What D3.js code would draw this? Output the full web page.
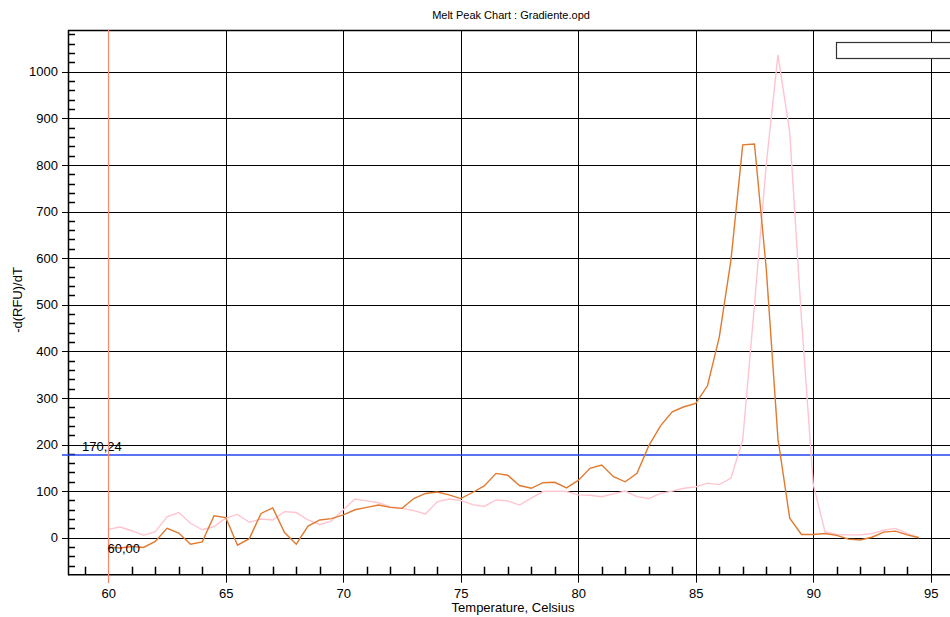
<!DOCTYPE html>
<html>
<head>
<meta charset="utf-8">
<script src="https://cdn.jsdelivr.net/npm/d3@7"></script>
<style>
  body { margin: 0; background: #fff; }
  .chart svg { display: block; font-family: "Liberation Sans", Arial, sans-serif; }
</style>
</head>
<body>
<div class="chart"></div>
<script>
// melt temperatures (Celsius)
const temps = [
  60.0, 60.5, 61.0, 61.5, 62.0, 62.5, 63.0, 63.5, 64.0, 64.5,
  65.0, 65.5, 66.0, 66.5, 67.0, 67.5, 68.0, 68.5, 69.0, 69.5,
  70.0, 70.5, 71.0, 71.5, 72.0, 72.5, 73.0, 73.5, 74.0, 74.5,
  75.0, 75.5, 76.0, 76.5, 77.0, 77.5, 78.0, 78.5, 79.0, 79.5,
  80.0, 80.5, 81.0, 81.5, 82.0, 82.5, 83.0, 83.5, 84.0, 84.5,
  85.0, 85.5, 86.0, 86.5, 87.0, 87.5, 88.0, 88.5, 89.0, 89.5,
  90.0, 90.5, 91.0, 91.5, 92.0, 92.5, 93.0, 93.5, 94.0, 94.5
];

// -d(RFU)/dT, orange well
const wellOrange = [
  -20, -22, -19, -21, -8, 20, 10, -14, -9, 47,
  43, -16, -2, 52, 64, 11, -14, 25, 38, 41,
  49, 60, 65, 70, 65, 63, 84, 95, 98, 92,
  84, 97, 111, 138, 134, 112, 106, 118, 119, 107,
  123, 149, 156, 131, 120, 138, 197, 240, 270, 281,
  288, 326, 430, 596, 843, 845, 578, 212, 42, 7,
  7, 9, 5, -3, -5, 1, 12, 14, 6, 0
];

// -d(RFU)/dT, pink well
const wellPink = [
  18, 23, 15, 5, 13, 45, 54, 31, 17, 24,
  42, 50, 33, 40, 38, 56, 54, 38, 28, 36,
  60, 83, 79, 75, 66, 63, 58, 51, 77, 83,
  80, 71, 67, 81, 79, 70, 85, 99, 100, 99,
  92, 91, 88, 94, 100, 88, 84, 95, 100, 106,
  109, 117, 114, 128, 210, 500, 800, 1036, 870, 470,
  115, 13, 7, 6, 6, 9, 16, 20, 9, 0
];

const xTicks = [60, 65, 70, 75, 80, 85, 90, 95];
const yTicks = [0, 100, 200, 300, 400, 500, 600, 700, 800, 900, 1000];

const thresholdValue = 178.24;
const thresholdLabel = '170,24';
const cursorTemp = 60;
const cursorLabel = '60,00';

const WIDTH = 950, HEIGHT = 617;
const MARGINS = {top: 30, left: 68, bottom: 574.7, right: 970};

const svg = d3.select('.chart')
  .append('svg')
  .attr('width', WIDTH)
  .attr('height', HEIGHT);

const xRange = d3.scaleLinear().domain([60, 95]).range([108.3, 930.7]);
const yRange = d3.scaleLinear().domain([0, 1000]).range([537.7, 71.7]);

// title
svg.append('text')
  .attr('x', 511)
  .attr('y', 19)
  .attr('text-anchor', 'middle')
  .style('font-size', '11px')
  .text('Melt Peak Chart : Gradiente.opd');

// grid
svg.selectAll('.hgrid')
  .data(yTicks)
  .enter()
  .append('line')
  .attr('x1', MARGINS.left - 6)
  .attr('x2', MARGINS.right)
  .attr('y1', d => Math.round(yRange(d)) + 0.5)
  .attr('y2', d => Math.round(yRange(d)) + 0.5)
  .attr('stroke', '#000')
  .attr('stroke-width', 1);

svg.selectAll('.vgrid')
  .data(xTicks)
  .enter()
  .append('line')
  .attr('x1', d => Math.round(xRange(d)) + 0.5)
  .attr('x2', d => Math.round(xRange(d)) + 0.5)
  .attr('y1', MARGINS.top)
  .attr('y2', MARGINS.bottom + 8)
  .attr('stroke', '#000')
  .attr('stroke-width', 1);

// frame
svg.append('line')
  .attr('x1', MARGINS.left + 0.5).attr('x2', MARGINS.left + 0.5)
  .attr('y1', MARGINS.top).attr('y2', MARGINS.bottom + 0.5)
  .attr('stroke', '#000').attr('stroke-width', 1.5);
svg.append('line')
  .attr('x1', MARGINS.left).attr('x2', MARGINS.right)
  .attr('y1', MARGINS.top + 0.5).attr('y2', MARGINS.top + 0.5)
  .attr('stroke', '#000').attr('stroke-width', 1.5);
svg.append('line')
  .attr('x1', MARGINS.left).attr('x2', MARGINS.right)
  .attr('y1', MARGINS.bottom).attr('y2', MARGINS.bottom)
  .attr('stroke', '#000').attr('stroke-width', 1.5);

// x axis labels
const xAxis = d3.axisBottom(xRange)
  .tickValues(xTicks)
  .tickSize(0)
  .tickPadding(14)
  .tickFormat(d3.format('d'));
const xAxisg = svg.append('g')
  .attr('transform', 'translate(0,' + MARGINS.bottom + ')')
  .call(xAxis);
xAxisg.select('.domain').remove();
xAxisg.selectAll('text')
  .style('font-size', '13px')
  .style('font-family', '"Liberation Sans", Arial, sans-serif')
  .attr('fill', '#000');

// x minor ticks
const xMinor = d3.range(59, 97).filter(v => v % 5 !== 0);
svg.selectAll('.xminor')
  .data(xMinor)
  .enter()
  .append('line')
  .attr('x1', d => Math.round(xRange(d)) + 0.5)
  .attr('x2', d => Math.round(xRange(d)) + 0.5)
  .attr('y1', MARGINS.bottom - 8)
  .attr('y2', MARGINS.bottom)
  .attr('stroke', '#000')
  .attr('stroke-width', 1.5);

// y axis labels
const yAxis = d3.axisLeft(yRange)
  .tickValues(yTicks)
  .tickSize(0)
  .tickPadding(10)
  .tickFormat(d3.format('d'));
const yAxisg = svg.append('g')
  .attr('transform', 'translate(' + MARGINS.left + ',0)')
  .call(yAxis);
yAxisg.select('.domain').remove();
yAxisg.selectAll('text')
  .style('font-size', '13px')
  .style('font-family', '"Liberation Sans", Arial, sans-serif')
  .attr('fill', '#000');

// y minor ticks
const yMinor = d3.range(-60, 1081, 20).filter(v => v % 100 !== 0);
svg.selectAll('.yminor')
  .data(yMinor)
  .enter()
  .append('line')
  .attr('x1', MARGINS.left)
  .attr('x2', MARGINS.left + 7)
  .attr('y1', d => Math.round(yRange(d)) + 0.5)
  .attr('y2', d => Math.round(yRange(d)) + 0.5)
  .attr('stroke', '#000')
  .attr('stroke-width', 1.5);

// axis titles
svg.append('text')
  .attr('x', 513)
  .attr('y', 612)
  .attr('text-anchor', 'middle')
  .style('font-size', '13px')
  .text('Temperature, Celsius');

svg.append('text')
  .attr('transform', 'translate(22,300) rotate(-90)')
  .attr('text-anchor', 'middle')
  .style('font-size', '13px')
  .text('-d(RFU)/dT');

// threshold line
const ty = Math.round(yRange(thresholdValue));
svg.append('line')
  .attr('x1', MARGINS.left - 6)
  .attr('x2', MARGINS.right)
  .attr('y1', ty)
  .attr('y2', ty)
  .attr('stroke', '#2244ee')
  .attr('stroke-width', 1.6);
svg.append('text')
  .attr('x', 82)
  .attr('y', ty - 4)
  .style('font-size', '13px')
  .text(thresholdLabel);

// melt curves
const lineFunction = d3.line()
  .x((d, i) => xRange(temps[i]))
  .y(d => yRange(d))
  .curve(d3.curveLinear);

svg.append('path')
  .attr('d', lineFunction(wellPink))
  .attr('fill', 'none')
  .attr('stroke', '#ffc4cf')
  .attr('stroke-width', 1.4);

svg.append('path')
  .attr('d', lineFunction(wellOrange))
  .attr('fill', 'none')
  .attr('stroke', '#e07a30')
  .attr('stroke-width', 1.4);

// cursor line
const cx = Math.round(xRange(cursorTemp)) + 0.5;
svg.append('line')
  .attr('x1', cx)
  .attr('x2', cx)
  .attr('y1', MARGINS.top)
  .attr('y2', MARGINS.bottom + 8)
  .attr('stroke', '#ff8468')
  .attr('stroke-width', 1.2);
svg.append('text')
  .attr('x', cx - 1)
  .attr('y', 553)
  .style('font-size', '13px')
  .text(cursorLabel);

// legend box (empty)
svg.append('rect')
  .attr('x', 836.5)
  .attr('y', 42.5)
  .attr('width', 140)
  .attr('height', 16)
  .attr('fill', '#fff')
  .attr('stroke', '#333')
  .attr('stroke-width', 1.2);
</script>
</body>
</html>
